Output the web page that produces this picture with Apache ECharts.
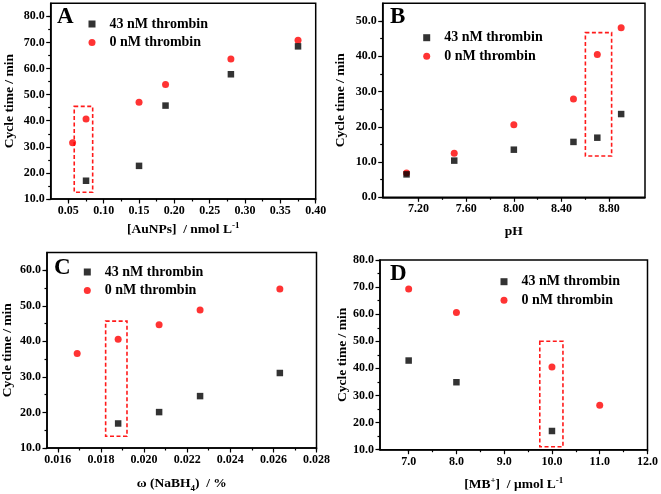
<!DOCTYPE html>
<html>
<head>
<meta charset="utf-8">
<script src="https://cdn.jsdelivr.net/npm/echarts@6/dist/echarts.min.js"></script>
<style>
html,body{margin:0;padding:0;background:#fff;}
#chart{width:661px;height:494px;}
</style>
</head>
<body>
<div id="chart"></div>
<script>
// ---------- data ----------
// Panel A : [AuNPs] / nmol L-1
const aBlackX = [0.075, 0.15, 0.1875, 0.28, 0.375];
const aBlackY = [17.0, 22.7, 45.8, 57.8, 68.5];
const aRedX   = [0.056, 0.075, 0.15, 0.1875, 0.28, 0.375];
const aRedY   = [31.6, 40.7, 47.1, 53.9, 63.7, 70.8];
const aXTicks = [0.05, 0.10, 0.15, 0.20, 0.25, 0.30, 0.35, 0.40];
const aYTicks = [10, 20, 30, 40, 50, 60, 70, 80];
const aBox    = [[0.0583, 45.5], [0.0844, 12.6]];

// Panel B : pH
const bX      = [7.1, 7.5, 8.0, 8.5, 8.7, 8.9];
const bBlackY = [6.5, 10.4, 13.5, 15.7, 16.9, 23.6];
const bRedY   = [6.9, 12.5, 20.6, 27.9, 40.5, 48.1];
const bXTicks = [7.2, 7.6, 8.0, 8.4, 8.8];
const bYTicks = [0, 10, 20, 30, 40, 50];
const bBox    = [[8.6, 46.7], [8.82, 11.7]];

// Panel C : w(NaBH4) / %
const cBlackX = [0.0188, 0.0207, 0.0226, 0.0263];
const cBlackY = [16.9, 20.1, 24.6, 31.1];
const cRedX   = [0.0169, 0.0188, 0.0207, 0.0226, 0.0263];
const cRedY   = [36.6, 40.6, 44.7, 48.8, 54.7];
const cXTicks = [0.016, 0.018, 0.020, 0.022, 0.024, 0.026, 0.028];
const cYTicks = [10, 20, 30, 40, 50, 60];
const cBox    = [[0.01822, 45.7], [0.01921, 13.3]];

// Panel D : [MB+] / umol L-1
const dBlackX = [7.0, 8.0, 10.0];
const dBlackY = [42.9, 34.9, 16.9];
const dRedX   = [7.0, 8.0, 10.0, 11.0];
const dRedY   = [69.3, 60.6, 40.5, 26.4];
const dXTicks = [7, 8, 9, 10, 11, 12];
const dYTicks = [10, 20, 30, 40, 50, 60, 70, 80];
const dBox    = [[9.745, 50.0], [10.23, 11.1]];

const nameBlack = '43 nM thrombin';
const nameRed = '0 nM thrombin';

// ---------- helpers ----------
const FONT = 'Liberation Serif';
function zip(xs, ys){ return xs.map((x,i)=>[x, ys[i]]); }
function minorsOf(majors){
  const out = [];
  for (let i = 0; i < majors.length - 1; i++) out.push((majors[i] + majors[i+1]) / 2);
  return out;
}
function withEdges(list, min, max, step){
  const out = list.slice();
  const lo = list[0] - step; if (lo >= min - 1e-9) out.unshift(lo);
  const hi = list[list.length-1] + step; if (hi <= max + 1e-9) out.push(hi);
  return out;
}

const grids = [], xAxes = [], yAxes = [], series = [], legends = [], titles = [];

function addPanel(p){
  const gi = grids.length;
  grids.push({left:p.grid[0], top:p.grid[1], width:p.grid[2], height:p.grid[3],
    show:true, borderColor:'#000', borderWidth:1.5, backgroundColor:'transparent', containLabel:false});
  const labelStyle = {fontFamily:FONT, fontWeight:'bold', fontSize:12, color:'#000'};
  const nameStyle = {fontFamily:FONT, fontWeight:'bold', fontSize:13.5, color:'#000'};
  const xMinor = withEdges(minorsOf(p.xTicks), p.xMin, p.xMax, (p.xTicks[1]-p.xTicks[0])/2);
  const yMinor = withEdges(minorsOf(p.yTicks), p.yMin, p.yMax, (p.yTicks[1]-p.yTicks[0])/2);
  const xi = xAxes.length, yi = yAxes.length;
  xAxes.push({
    gridIndex:gi, type:'value', position:'bottom', min:p.xMin, max:p.xMax,
    axisLine:{show:true, onZero:false, lineStyle:{color:'#000', width:1.5}},
    axisTick:{show:true, inside:false, length:4.5, lineStyle:{color:'#000', width:1.2}, customValues:p.xTicks},
    axisLabel:Object.assign({customValues:p.xTicks, margin:6, formatter:v=>v.toFixed(p.xDec), hideOverlap:false}, labelStyle),
    splitLine:{show:false},
    name:p.xName, nameLocation:'middle', nameGap:p.xNameGap,
    nameTextStyle:Object.assign({rich:{
      t:{fontFamily:FONT, fontWeight:'bold', fontSize:13.5, color:'#000', lineHeight:18},
      s:{fontFamily:FONT, fontWeight:'bold', fontSize:9, color:'#000', verticalAlign:'top', lineHeight:18},
      b:{fontFamily:FONT, fontWeight:'bold', fontSize:9, color:'#000', verticalAlign:'bottom', lineHeight:18}
    }}, nameStyle)
  });
  xAxes.push({
    gridIndex:gi, type:'value', position:'bottom', min:p.xMin, max:p.xMax,
    axisLine:{show:false, onZero:false},
    axisTick:{show:true, inside:false, length:2.5, lineStyle:{color:'#000', width:1.2}, customValues:xMinor},
    axisLabel:{show:false}, splitLine:{show:false}
  });
  yAxes.push({
    gridIndex:gi, type:'value', position:'left', min:p.yMin, max:p.yMax,
    axisLine:{show:true, onZero:false, lineStyle:{color:'#000', width:1.5}},
    axisTick:{show:true, inside:false, length:4.5, lineStyle:{color:'#000', width:1.2}, customValues:p.yTicks},
    axisLabel:Object.assign({customValues:p.yTicks, margin:6, formatter:v=>v.toFixed(1)}, labelStyle),
    splitLine:{show:false},
    name:'Cycle time / min', nameLocation:'middle', nameGap:p.yNameGap, nameRotate:90,
    nameTextStyle:nameStyle
  });
  yAxes.push({
    gridIndex:gi, type:'value', position:'left', min:p.yMin, max:p.yMax,
    axisLine:{show:false, onZero:false},
    axisTick:{show:true, inside:false, length:2.5, lineStyle:{color:'#000', width:1.2}, customValues:yMinor},
    axisLabel:{show:false}, splitLine:{show:false}
  });
  series.push({
    type:'scatter', name:nameRed, xAxisIndex:xi, yAxisIndex:yi,
    symbol:'circle', symbolSize:7, itemStyle:{color:'#ff0000'},
    data:zip(p.redX, p.redY), z:2,
    markArea:{silent:true, itemStyle:{color:'rgba(0,0,0,0)', borderColor:'#ff1a1a', borderWidth:1.6, borderType:[4,2.5]},
      data:[[{xAxis:p.box[0][0], yAxis:p.box[0][1]}, {xAxis:p.box[1][0], yAxis:p.box[1][1]}]]}
  });
  series.push({
    type:'scatter', name:nameBlack, xAxisIndex:xi, yAxisIndex:yi,
    symbol:'rect', symbolSize:6.5, itemStyle:{color:'#000'},
    data:zip(p.blackX, p.blackY), z:3
  });
  legends.push({
    orient:'vertical', left:p.legend[0], top:p.legend[1], itemWidth:7, itemHeight:7, itemGap:2.5,
    padding:0, selectedMode:false,
    data:[{name:nameBlack, icon:'rect'}, {name:nameRed, icon:'circle'}],
    textStyle:{fontFamily:FONT, fontWeight:'bold', fontSize:14, color:'#000', padding:[0,0,0,9], lineHeight:16}
  });
  titles.push({text:p.letter, left:p.title[0], top:p.title[1], padding:0,
    textStyle:{fontFamily:FONT, fontWeight:'bold', fontSize:23, color:'#000'}});
}

addPanel({letter:'A', grid:[50.7, 3.3, 265, 195.7], xMin:0.025, xMax:0.40, yMin:10, yMax:85,
  xTicks:aXTicks, yTicks:aYTicks, xDec:2, xName:'{t|[AuNPs]  / nmol L}{s|-1}', xNameGap:22, yNameGap:34,
  blackX:aBlackX, blackY:aBlackY, redX:aRedX, redY:aRedY, box:aBox, legend:[88.5, 16], title:[57, 6]});
addPanel({letter:'B', grid:[382.7, 3.3, 262.3, 194], xMin:6.9, xMax:9.1, yMin:0, yMax:55,
  xTicks:bXTicks, yTicks:bYTicks, xDec:2, xName:'{t|pH}', xNameGap:25, yNameGap:35,
  blackX:bX, blackY:bBlackY, redX:bX, redY:bRedY, box:bBox, legend:[423.2, 29.7], title:[390, 6]});
addPanel({letter:'C', grid:[46.5, 252.5, 270, 196.5], xMin:0.0155, xMax:0.028, yMin:10, yMax:65,
  xTicks:cXTicks, yTicks:cYTicks, xDec:3, xName:'{t|ω (NaBH}{b|4}{t|)  / %}', xNameGap:27, yNameGap:32,
  blackX:cBlackX, blackY:cBlackY, redX:cRedX, redY:cRedY, box:cBox, legend:[83.8, 264], title:[54, 257]});
addPanel({letter:'D', grid:[380, 260, 269, 189.7], xMin:6.4, xMax:12, yMin:10, yMax:80,
  xTicks:dXTicks, yTicks:dYTicks, xDec:1, xName:'{t|[MB}{s|+}{t|]  / μmol L}{s|-1}', xNameGap:26, yNameGap:30,
  blackX:dBlackX, blackY:dBlackY, redX:dRedX, redY:dRedY, box:dBox, legend:[500.5, 273.7], title:[390, 263]});

const chart = echarts.init(document.getElementById('chart'), null, {renderer:'canvas'});
chart.setOption({
  animation:false,
  backgroundColor:'#fff',
  title:titles,
  legend:legends,
  grid:grids,
  xAxis:xAxes,
  yAxis:yAxes,
  series:series
});
</script>
</body>
</html>
